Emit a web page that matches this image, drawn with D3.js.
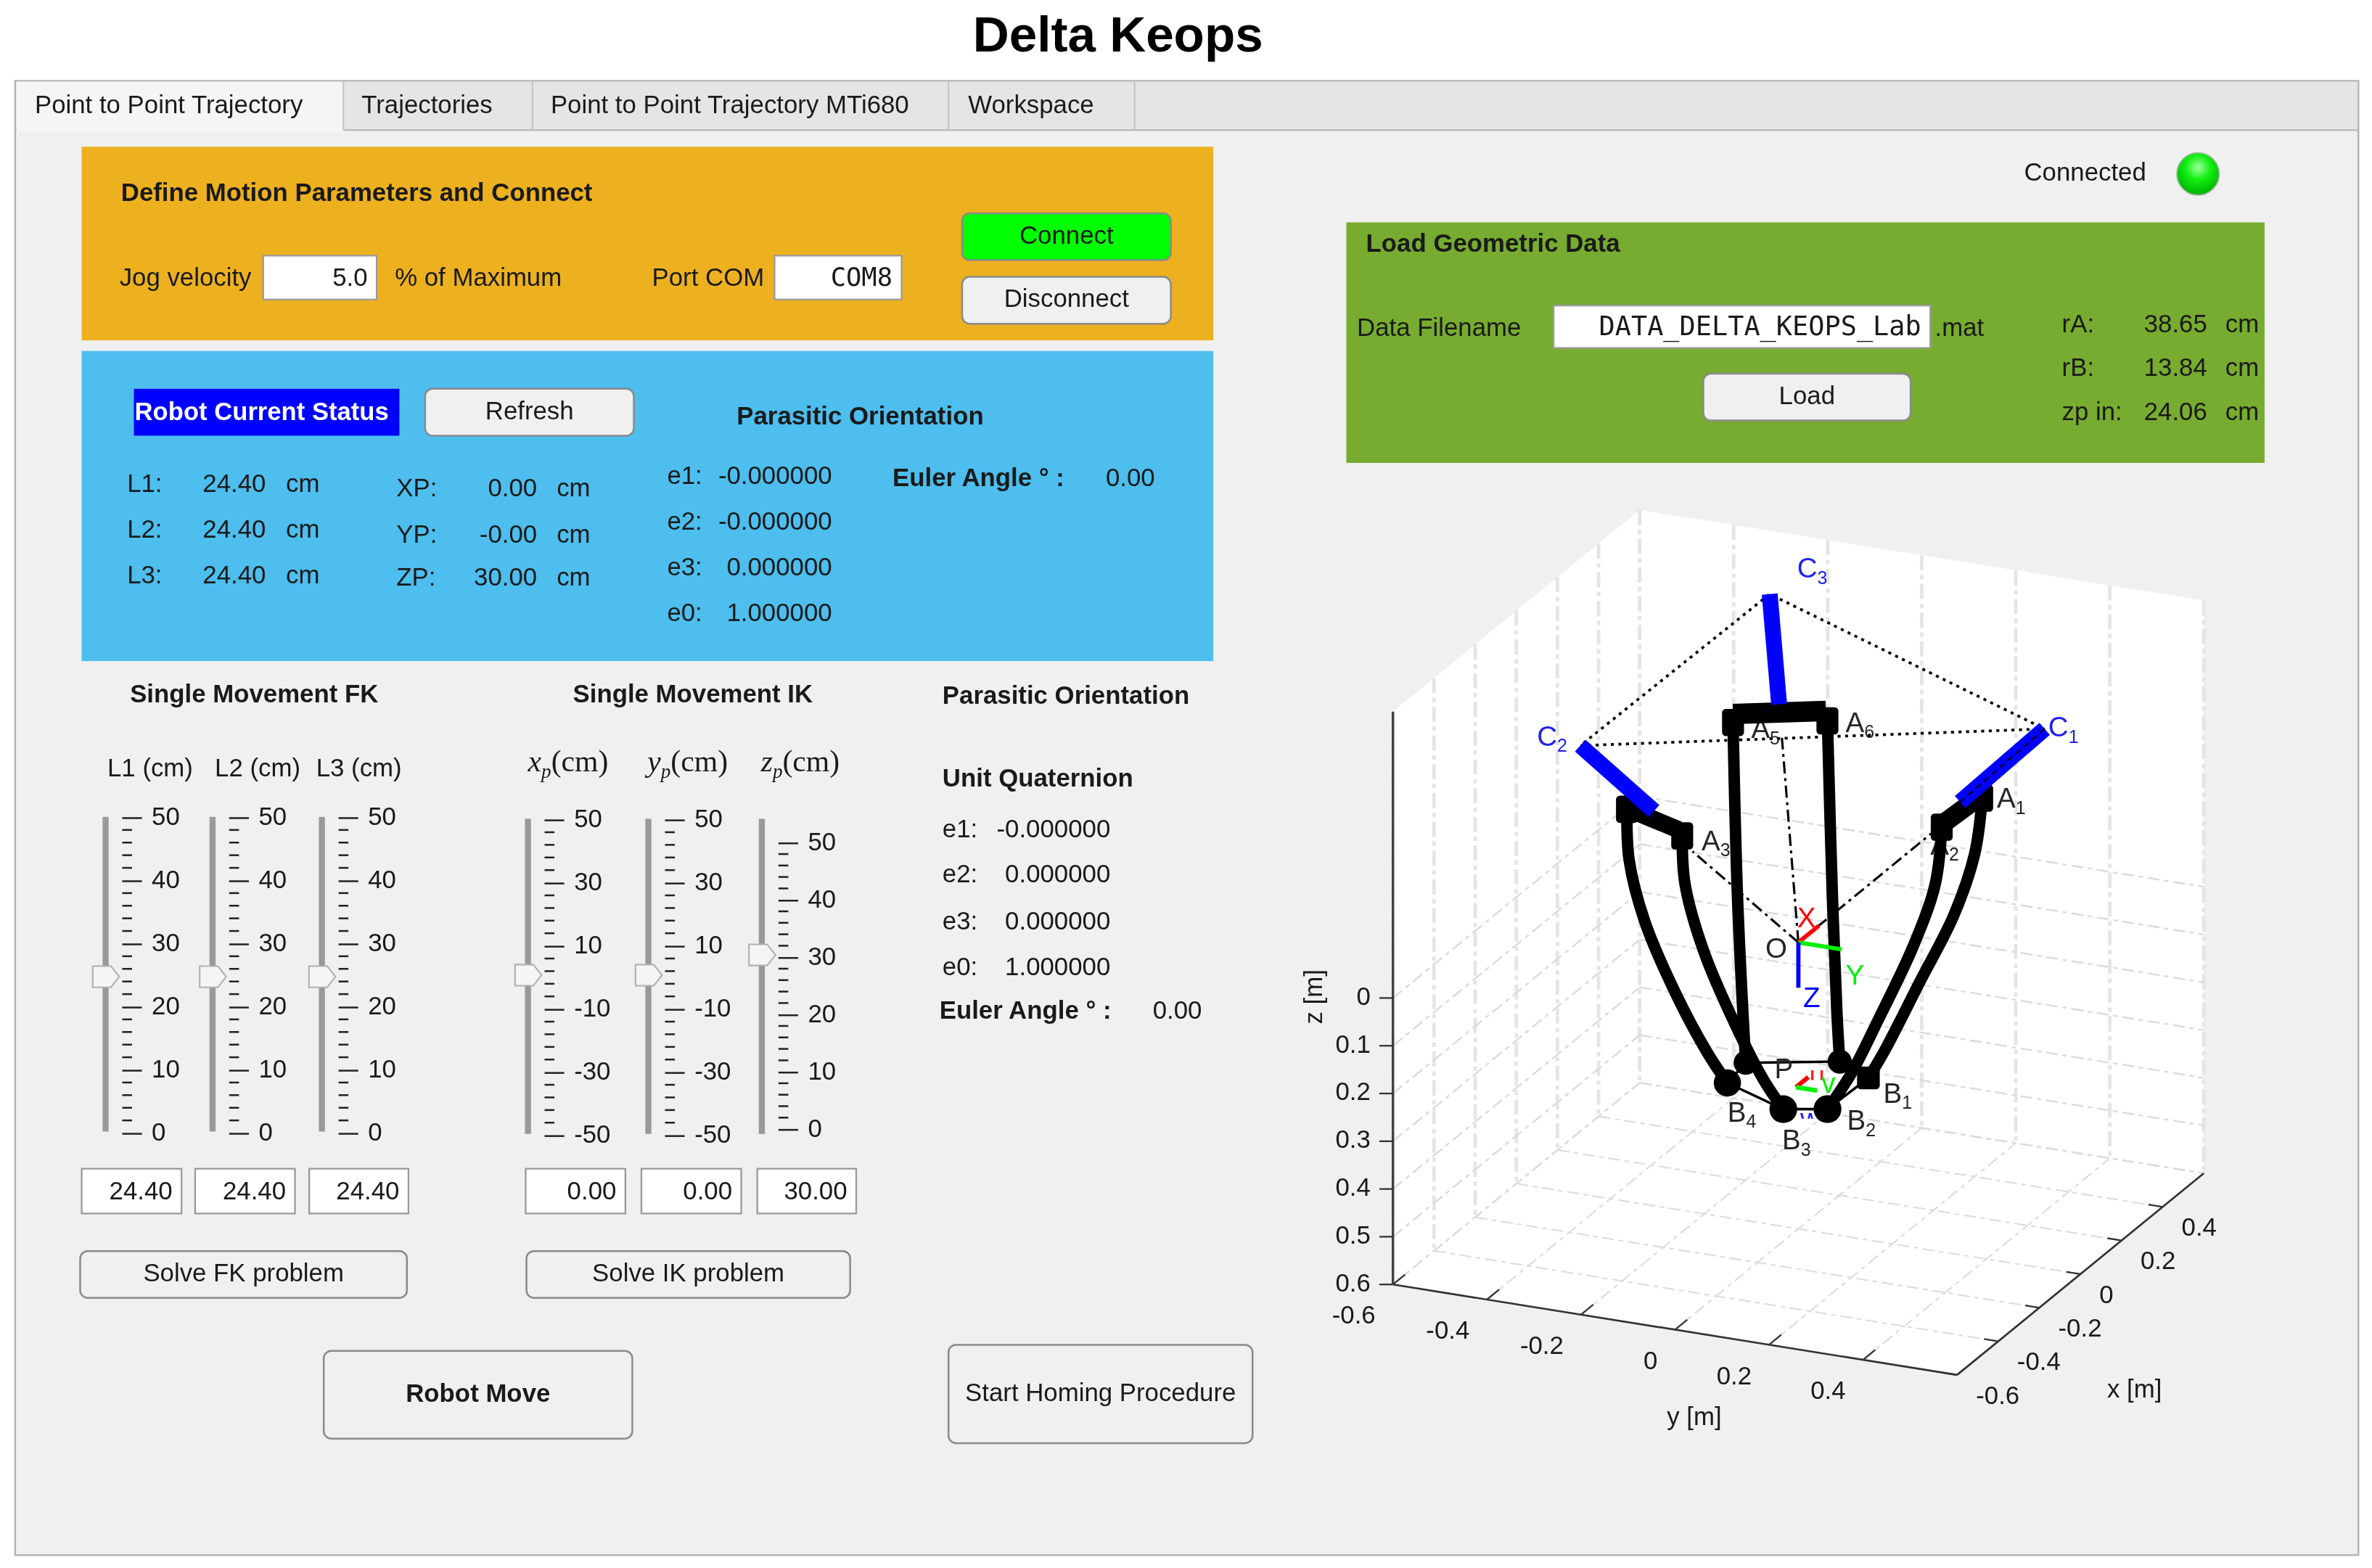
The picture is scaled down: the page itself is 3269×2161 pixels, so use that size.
<!DOCTYPE html>
<html><head><meta charset="utf-8">
<script src="https://cdn.jsdelivr.net/npm/d3@7"></script>
<style>html,body{margin:0;padding:0;background:#fff;overflow:hidden}svg{display:block;filter:blur(0.7px)}text{font-family:"Liberation Sans",Arial,sans-serif;fill:#1a1a1a}</style>
</head><body><svg id="c" width="3269" height="2161"></svg>
<script>
// ---------- data ----------
const tabNames = ["Point to Point Trajectory","Trajectories","Point to Point Trajectory MTi680","Workspace"];
const lengthNames = ["L1 (cm)","L2 (cm)","L3 (cm)"];
const lengthValues = [24.40,24.40,24.40];
const positionValues = [0.00,0.00,30.00];
const statusLengths = ["24.40","24.40","24.40"];
const statusPositions = ["0.00","-0.00","30.00"];
const statusQuaternion = ["-0.000000","-0.000000","0.000000","1.000000"];
const unitQuaternion = ["-0.000000","0.000000","0.000000","1.000000"];
const geometry = [["rA:","38.65"],["rB:","13.84"],["zp in:","24.06"]];
const lengthTicks = d3.range(0,51,10);
const lengthMinor = d3.range(0,51,2);
const positionTicks = d3.range(-50,51,20);
const positionMinor = d3.range(-50,51,4);
const xTicks = [-0.6,-0.4,-0.2,0,0.2,0.4];
const yTicks = [-0.6,-0.4,-0.2,0,0.2,0.4];
const zTicks = [0,0.1,0.2,0.3,0.4,0.5,0.6];
const xGrid = [-0.6,-0.4,-0.2,0,0.2,0.4,0.6];
const yGrid = [-0.6,-0.4,-0.2,0,0.2,0.4,0.6];

// Robot points in metres as [y, z]. One view cannot recover depth, so they sit on the plane x = 0.
const C1=[.524,-.530], C2=[-.464,-.339], C3=[-.061,-.720];
const C1end=[.344,-.3486], C2end=[-.307,-.2267], C3end=[-.041,-.4925];
const A1=[.391,-.364], A2=[.305,-.2895], A3=[-.2471,-.1841], A4=[-.3646,-.2213], A5=[-.139,-.4388], A6=[.0618,-.474];
const barTop=[[-.139,-.4566],[.0586,-.494]];
const barLeft=[[-.363,-.2231],[-.2549,-.1959]];
const barRight=[[.39,-.37],[.305,-.295]];
const B1=[.149,.2605], B2=[.062,.3394], B3=[-.032,.3543], B4=[-.151,.3182], B5=[-.112,.2697], B6=[.088,.2357];
const leg1=[A1,[.375,-.2446],[.331,-.1098],[.258,.0425],[.185,.1948],B1];
const leg2=[A2,[.291,-.1675],[.245,-.0322],[.171,.133],[.112,.2575],B2];
const leg3=[A3,[-.241,-.0836],[-.201,.0509],[-.134,.1939],[-.074,.2996],B3];
const leg4=[A4,[-.360,-.1159],[-.327,.0068],[-.260,.1499],[-.194,.2609],B4];
const leg5=[A5,[-.130,-.0882],[-.118,.1658],B5];
const leg6=[A6,[.072,-.1201],[.082,.1341],B6];
const platform=[B5,B6,B1,B2,B3,B4,B5];
const apexO=[0,0], towardTop=[-.035,-.4231], towardA3=[-.225,-.155], towardA2=[.285,-.275];
// Frames as [x, y, z] metres
const frameO=[[0,0,0],[.1,0,0],[0,.092,0],[0,0,.095]];
const frameP=[[0,-.005,.304],[.06,-.005,.304],[0,.04,.304]];

// ---------- page ----------
const S=3269/1568, FS=16.7;
const root=d3.select("#c").append("g").attr("transform",`scale(${S})`);
const T=(x,y,s,o={})=>root.append("text").attr("x",x).attr("y",y).attr("font-size",o.size||FS)
  .attr("font-weight",o.bold?"bold":null).attr("text-anchor",o.anchor||"start")
  .style("fill",o.fill||null).style("font-family",o.font||null).text(s);
const R=(x0,y0,x1,y1,f,st,r,w)=>root.append("rect").attr("x",x0).attr("y",y0).attr("width",x1-x0).attr("height",y1-y0)
  .attr("fill",f).attr("stroke",st||"none").attr("stroke-width",w||1).attr("rx",r||0);
const Btn=(x0,y0,x1,y1,label,o={})=>{R(x0,y0,x1,y1,o.fill||"#f0f0f0","#8a8a8a",5,1.2);
  T((x0+x1)/2,(y0+y1)/2+4.6,label,{anchor:"middle",bold:o.bold,size:o.size});};
const Box=(x0,y0,x1,y1,label,o={})=>{R(x0,y0,x1,y1,"#fff","#9a9a9a",0,1.1);
  T(o.cx?(x0+x1)/2:x1-6,(y0+y1)/2+5.5,label,{anchor:o.cx?"middle":"end",font:o.font,size:o.size});};

T(739,34,"Delta Keops",{anchor:"middle",bold:true,size:33.2}).style("fill","#000");

// tab group
R(10,53.5,1559,1028,"#f0f0f0","#b4b4b4",0,1.2);
R(11,54,1558.5,86,"#e5e5e5");
root.append("line").attr("x1",10).attr("x2",1559).attr("y1",86).attr("y2",86).attr("stroke","#bcbcbc").attr("stroke-width",1.2);
R(11,54,227,87,"#f5f5f5");
const tabEdges=[227,352,627,750], tabText=[23,239,364,640];
tabNames.forEach((t,i)=>{T(tabText[i],75,t);
  root.append("line").attr("x1",tabEdges[i]).attr("x2",tabEdges[i]).attr("y1",54).attr("y2",86).attr("stroke","#c4c4c4");});

// Orange panel
R(54,97,802,225,"#edb120");
T(80,133,"Define Motion Parameters and Connect",{bold:true});
T(79,189,"Jog velocity"); Box(174,169,249,198,"5.0");
T(261,189,"% of Maximum"); T(431,189,"Port COM");
Box(512,169,596,198,"COM8",{font:"'DejaVu Sans Mono',monospace",size:17});
Btn(636,141,774,172,"Connect",{fill:"#00ff00"}); Btn(636,183,774,214,"Disconnect");

// Blue panel
R(54,232,802,437,"#4dbeee");
R(88.5,257,264,288,"#0000ff");
T(89,277.5,"Robot Current Status",{bold:true,fill:"#fff"}).attr("textLength",168).attr("lengthAdjust","spacingAndGlyphs");
Btn(281,257,419,288,"Refresh");
T(487,280.5,"Parasitic Orientation",{bold:true});
const statusRowY=[325,355.5,385.5], posRowY=[328,359,387], posNames=["XP:","YP:","ZP:"];
statusLengths.forEach((v,i)=>{T(84,statusRowY[i],`L${i+1}:`);T(134,statusRowY[i],v);T(189,statusRowY[i],"cm");});
statusPositions.forEach((v,i)=>{T(355,posRowY[i],v,{anchor:"end"});T(262,posRowY[i],posNames[i]);T(368,posRowY[i],"cm");});
const qNames=["e1:","e2:","e3:","e0:"], qRow=[320,350,380.5,410.5];
statusQuaternion.forEach((v,i)=>{T(441,qRow[i],qNames[i]);T(550,qRow[i],v,{anchor:"end"});});
T(590,321.5,"Euler Angle ° :",{bold:true}); T(731,321.5,"0.00");

// Section headings
T(168,464.5,"Single Movement FK",{bold:true,anchor:"middle"});
T(458,464.5,"Single Movement IK",{bold:true,anchor:"middle"});
T(623,465.5,"Parasitic Orientation",{bold:true});
T(623,520,"Unit Quaternion",{bold:true});
const q2Row=[553.5,583.5,614.5,644.5];
unitQuaternion.forEach((v,i)=>{T(623,q2Row[i],qNames[i]);T(734,q2Row[i],v,{anchor:"end"});});
T(621,673.5,"Euler Angle ° :",{bold:true}); T(762,673.5,"0.00");

// Sliders
function slider(trackX,scale,major,minor,value,yTop,yBot){
  const g=root.append("g");
  g.append("rect").attr("x",trackX-2).attr("width",4).attr("y",yTop).attr("height",yBot-yTop).attr("fill","#999");
  const ax=d3.axisRight(scale).tickValues(major).tickSize(13).tickPadding(6.5).tickFormat(d=>String(d));
  const ag=g.append("g").attr("transform",`translate(${trackX+11},0)`).call(ax);
  ag.select(".domain").remove();
  ag.selectAll("line").attr("stroke","#222").attr("stroke-width",1.2);
  ag.selectAll("text").attr("font-size",FS).attr("font-family",null).attr("dy","0.27em").style("fill","#1a1a1a");
  const mg=g.append("g").attr("transform",`translate(${trackX+11},0)`);
  mg.selectAll("line").data(minor.filter(d=>!major.includes(d))).join("line")
    .attr("x1",0).attr("x2",6.5).attr("y1",d=>scale(d)).attr("y2",d=>scale(d)).attr("stroke","#222").attr("stroke-width",1.2);
  const y=scale(value)-1.5;
  g.append("path").attr("d",`M${trackX-8.5},${y-7}h12l5.5,7l-5.5,7h-12z`).attr("fill","#f5f5f5").attr("stroke","#b0b0b0").attr("stroke-width",1);
}
const lenScale=d3.scaleLinear([0,50],[749,540.3]);
const posScale=d3.scaleLinear([-50,50],[750.5,541.8]);
const zpScale=d3.scaleLinear([0,50],[746.4,557]);
[69.8,140.5,212.8].forEach((x,i)=>slider(x,lenScale,lengthTicks,lengthMinor,lengthValues[i],540,748));
slider(349,posScale,positionTicks,positionMinor,positionValues[0],541.3,749.6);
slider(428.6,posScale,positionTicks,positionMinor,positionValues[1],541.3,749.6);
slider(503.6,zpScale,lengthTicks,lengthMinor,positionValues[2],541.3,749.6);

[71,142,209].forEach((x,i)=>T(x,513,lengthNames[i]));
[[349,"x"],[428,"y"],[503,"z"]].forEach(([x,n])=>{
  const t=root.append("text").attr("x",x).attr("y",510).attr("font-size",20).style("font-family","'Liberation Serif',serif");
  t.append("tspan").attr("font-style","italic").text(n);
  t.append("tspan").attr("font-style","italic").attr("font-size",13).attr("dy",4).text("p");
  t.append("tspan").attr("dy",-4).text("(cm)");
});
[[54,120],[129,195],[204.4,270]].forEach((b,i)=>Box(b[0],772.6,b[1],802.2,d3.format(".2f")(lengthValues[i])));
[[347.5,413.4],[424,490],[500.6,566]].forEach((b,i)=>Box(b[0],772.6,b[1],802.2,d3.format(".2f")(positionValues[i])));
Btn(53,827,269,858,"Solve FK problem"); Btn(348,827,562,858,"Solve IK problem");
Btn(214,893,418,951,"Robot Move",{bold:true}); Btn(627,889,828,954,"Start Homing Procedure");

// Connection + geometry panel
T(1338,119.5,"Connected");
const defs=root.append("defs");
const lg=defs.append("radialGradient").attr("id","led").attr("cx","50%").attr("cy","35%").attr("r","65%");
lg.append("stop").attr("offset","0%").attr("stop-color","#9dff9d");
lg.append("stop").attr("offset","45%").attr("stop-color","#12f012");
lg.append("stop").attr("offset","100%").attr("stop-color","#00b000");
root.append("circle").attr("cx",1453).attr("cy",115).attr("r",14).attr("fill","url(#led)").attr("stroke","#9ab89a").attr("stroke-width",.8);
R(890,147,1497,306,"#77ac30");
T(903,166.5,"Load Geometric Data",{bold:true});
T(897,222,"Data Filename");
Box(1027,202,1276,230,"DATA_DELTA_KEOPS_Lab",{font:"'DejaVu Sans Mono',monospace",size:17.7});
T(1279,222,".mat");
Btn(1126,247,1263,278,"Load");
const geoRow=[219.5,248.5,277.5];
geometry.forEach((g,i)=>{T(1363,geoRow[i],g[0]);T(1459,geoRow[i],g[1],{anchor:"end"});T(1471,geoRow[i],"cm");});

// ---------- 3D axes ----------
const xU=d3.scaleLinear([-.6,.6],[0,163.1]), xV=d3.scaleLinear([-.6,.6],[0,-133.3]);
const yU=d3.scaleLinear([-.6,.6],[0,372.9]), yV=d3.scaleLinear([-.6,.6],[0,59.8]);
const zV=d3.scaleLinear([-.6,.6],[470.4,849.1]);
const project=([x,y,z])=>[920.8+xU(x)+yU(y), zV(z)+xV(x)+yV(y)];
const onPlane=([y,z])=>project([0,y,z]);
const ax=root.append("g");
const lineP=d3.line();
ax.append("path").attr("fill","#fff").attr("d",lineP([[-.6,-.6,-.6],[-.6,-.6,.6],[-.6,.6,.6],[.6,.6,.6],[.6,.6,-.6],[.6,-.6,-.6]].map(project))+"Z");
const gridSeg=(a,b,w,c,d)=>ax.append("line").attr("x1",project(a)[0]).attr("y1",project(a)[1]).attr("x2",project(b)[0]).attr("y2",project(b)[1])
  .attr("stroke",c).attr("stroke-width",w).attr("stroke-dasharray",d);
xGrid.forEach(x=>{gridSeg([x,-.6,.6],[x,.6,.6],1,"#dcdcdc","8 3 3 3"); gridSeg([x,-.6,-.6],[x,-.6,.6],2.3,"#e5e5e5","10 3 3 3");});
yGrid.forEach(y=>{gridSeg([-.6,y,.6],[.6,y,.6],1,"#dcdcdc","8 3 3 3"); gridSeg([.6,y,-.6],[.6,y,.6],2.3,"#e5e5e5","10 3 3 3");});
zTicks.forEach(z=>{gridSeg([-.6,-.6,z],[.6,-.6,z],1.2,"#dcdcdc","8 3 3 3"); gridSeg([.6,-.6,z],[.6,.6,z],1.2,"#dcdcdc","8 3 3 3");});
const axisLine=(a,b,w,c)=>ax.append("line").attr("x1",project(a)[0]).attr("y1",project(a)[1]).attr("x2",project(b)[0]).attr("y2",project(b)[1]).attr("stroke",c).attr("stroke-width",w);
axisLine([-.6,-.6,-.6],[-.6,-.6,.6],1.6,"#404040");
axisLine([-.6,-.6,.6],[-.6,.6,.6],1.3,"#333");
axisLine([-.6,.6,.6],[.6,.6,.6],1.3,"#333");
const tick=(p,q)=>axisLine(p,q,1.1,"#333");
zTicks.forEach(z=>{const p=project([-.6,-.6,z]);ax.append("line").attr("x1",p[0]-9).attr("x2",p[0]).attr("y1",p[1]).attr("y2",p[1]).attr("stroke","#333").attr("stroke-width",1.1);
  ax.append("text").attr("x",906).attr("y",p[1]+4.5).attr("text-anchor","end").attr("font-size",FS).text(z);});
yTicks.forEach(y=>{tick([-.6,y,.6],[-.54,y,.6]);const p=project([-.6,y,.6]);
  ax.append("text").attr("x",p[0]-11.5).attr("y",p[1]+26).attr("text-anchor","end").attr("font-size",FS).text(y);});
xTicks.forEach(x=>{tick([x,.6,.6],[x,.57,.6]);const p=project([x,.6,.6]);
  ax.append("text").attr("x",p[0]+12.5).attr("y",p[1]+19).attr("font-size",FS).text(x);});
T(1120,942,"y [m]",{anchor:"middle"}); T(1411,924,"x [m]",{anchor:"middle"});
T(0,0,"z [m]",{anchor:"middle"}).attr("transform","translate(874,659) rotate(-90)");

// ---------- Robot ----------
const Lab=(x,y,base,sub,fill)=>{const t=root.append("text").attr("x",x).attr("y",y).attr("font-size",18.5).style("fill",fill||"#262626");
  t.append("tspan").text(base); if(sub) t.append("tspan").attr("font-size",12).attr("dy",4).text(sub);};
Lab(1320,534,"A","1"); Lab(1276,565,"A","2"); Lab(1124.8,562,"A","3"); Lab(1157.6,488,"A","5"); Lab(1220,484,"A","6");

const rb=root.append("g").attr("fill","none");
const poly=(pts,w,c,dash)=>rb.append("path").attr("d",d3.line()(pts.map(onPlane))).attr("stroke",c).attr("stroke-width",w).attr("stroke-dasharray",dash||null);
const curve=d3.line().curve(d3.curveCatmullRom.alpha(.5));
poly([C1,C2,C3,C1],1.8,"#000","2 3");
[towardTop,towardA3,towardA2].forEach(p=>poly([apexO,p],1.5,"#000","8 3 2 3"));
poly(platform,1.7,"#000");
const clipped=(id,x0,y0,x1,y1,tx,ty,s,c)=>{defs.append("clipPath").attr("id",id).append("rect").attr("x",x0).attr("y",y0).attr("width",x1-x0).attr("height",y1-y0);
  rb.append("text").attr("x",tx).attr("y",ty).attr("font-size",18.5).attr("clip-path",`url(#${id})`).style("fill",c).text(s);};
clipped("cu",1190,700,1215,714,1196,717.8,"u","#ff2020");
clipped("cw",1185,735.5,1205,739.5,1190,745.8,"w","#2020ff");
[leg1,leg2,leg3,leg4,leg5,leg6].forEach(l=>rb.append("path").attr("d",curve(l.map(onPlane))).attr("stroke","#000").attr("stroke-width",7.6));
poly(barTop,13.5,"#000"); poly(barLeft,11.5,"#000"); poly(barRight,12.5,"#000");
const block=(p,w,h)=>{const [u,v]=onPlane(p);rb.append("rect").attr("x",u-w/2).attr("y",v-h/2).attr("width",w).attr("height",h).attr("rx",2.5).attr("fill","#000");};
[A1,A2,A3,A4,A5,A6].forEach(p=>block(p,14.5,18)); block(B1,15,15);
poly([C1,C1end],10.5,"#0000ff"); poly([C2,C2end],10.5,"#0000ff"); poly([C3,C3end],10.5,"#0000ff");
poly([C1,C1end],1,"#000","4 3");
[[B2,9.2],[B3,9.2],[B4,9],[B5,8],[B6,8]].forEach(([p,r])=>{const [u,v]=onPlane(p);rb.append("circle").attr("cx",u).attr("cy",v).attr("r",r).attr("fill","#000");});
const frame=(f,w)=>["#ff0000","#00ee00","#0000ff"].forEach((c,i)=>{if(!f[i+1])return;const a=project(f[0]),b=project(f[i+1]);
  rb.append("line").attr("x1",a[0]).attr("y1",a[1]).attr("x2",b[0]).attr("y2",b[1]).attr("stroke",c).attr("stroke-width",w);});
frame(frameO,2.8); frame(frameP,3);

Lab(1016,493,"C","2","#2222ee"); Lab(1188,382,"C","3","#2222ee"); Lab(1354,487,"C","1","#2222ee");
Lab(1245,729,"B","1"); Lab(1221,747,"B","2"); Lab(1178,760,"B","3"); Lab(1142,741.5,"B","4");
Lab(1167,633,"O"); Lab(1188,613,"X",null,"#ff0000"); Lab(1220,651,"Y",null,"#00ee00"); Lab(1192,666,"Z",null,"#0000ff");
Lab(1173,713,"P");
Lab(1204,722.5,"v",null,"#00ee00");
</script></body></html>
